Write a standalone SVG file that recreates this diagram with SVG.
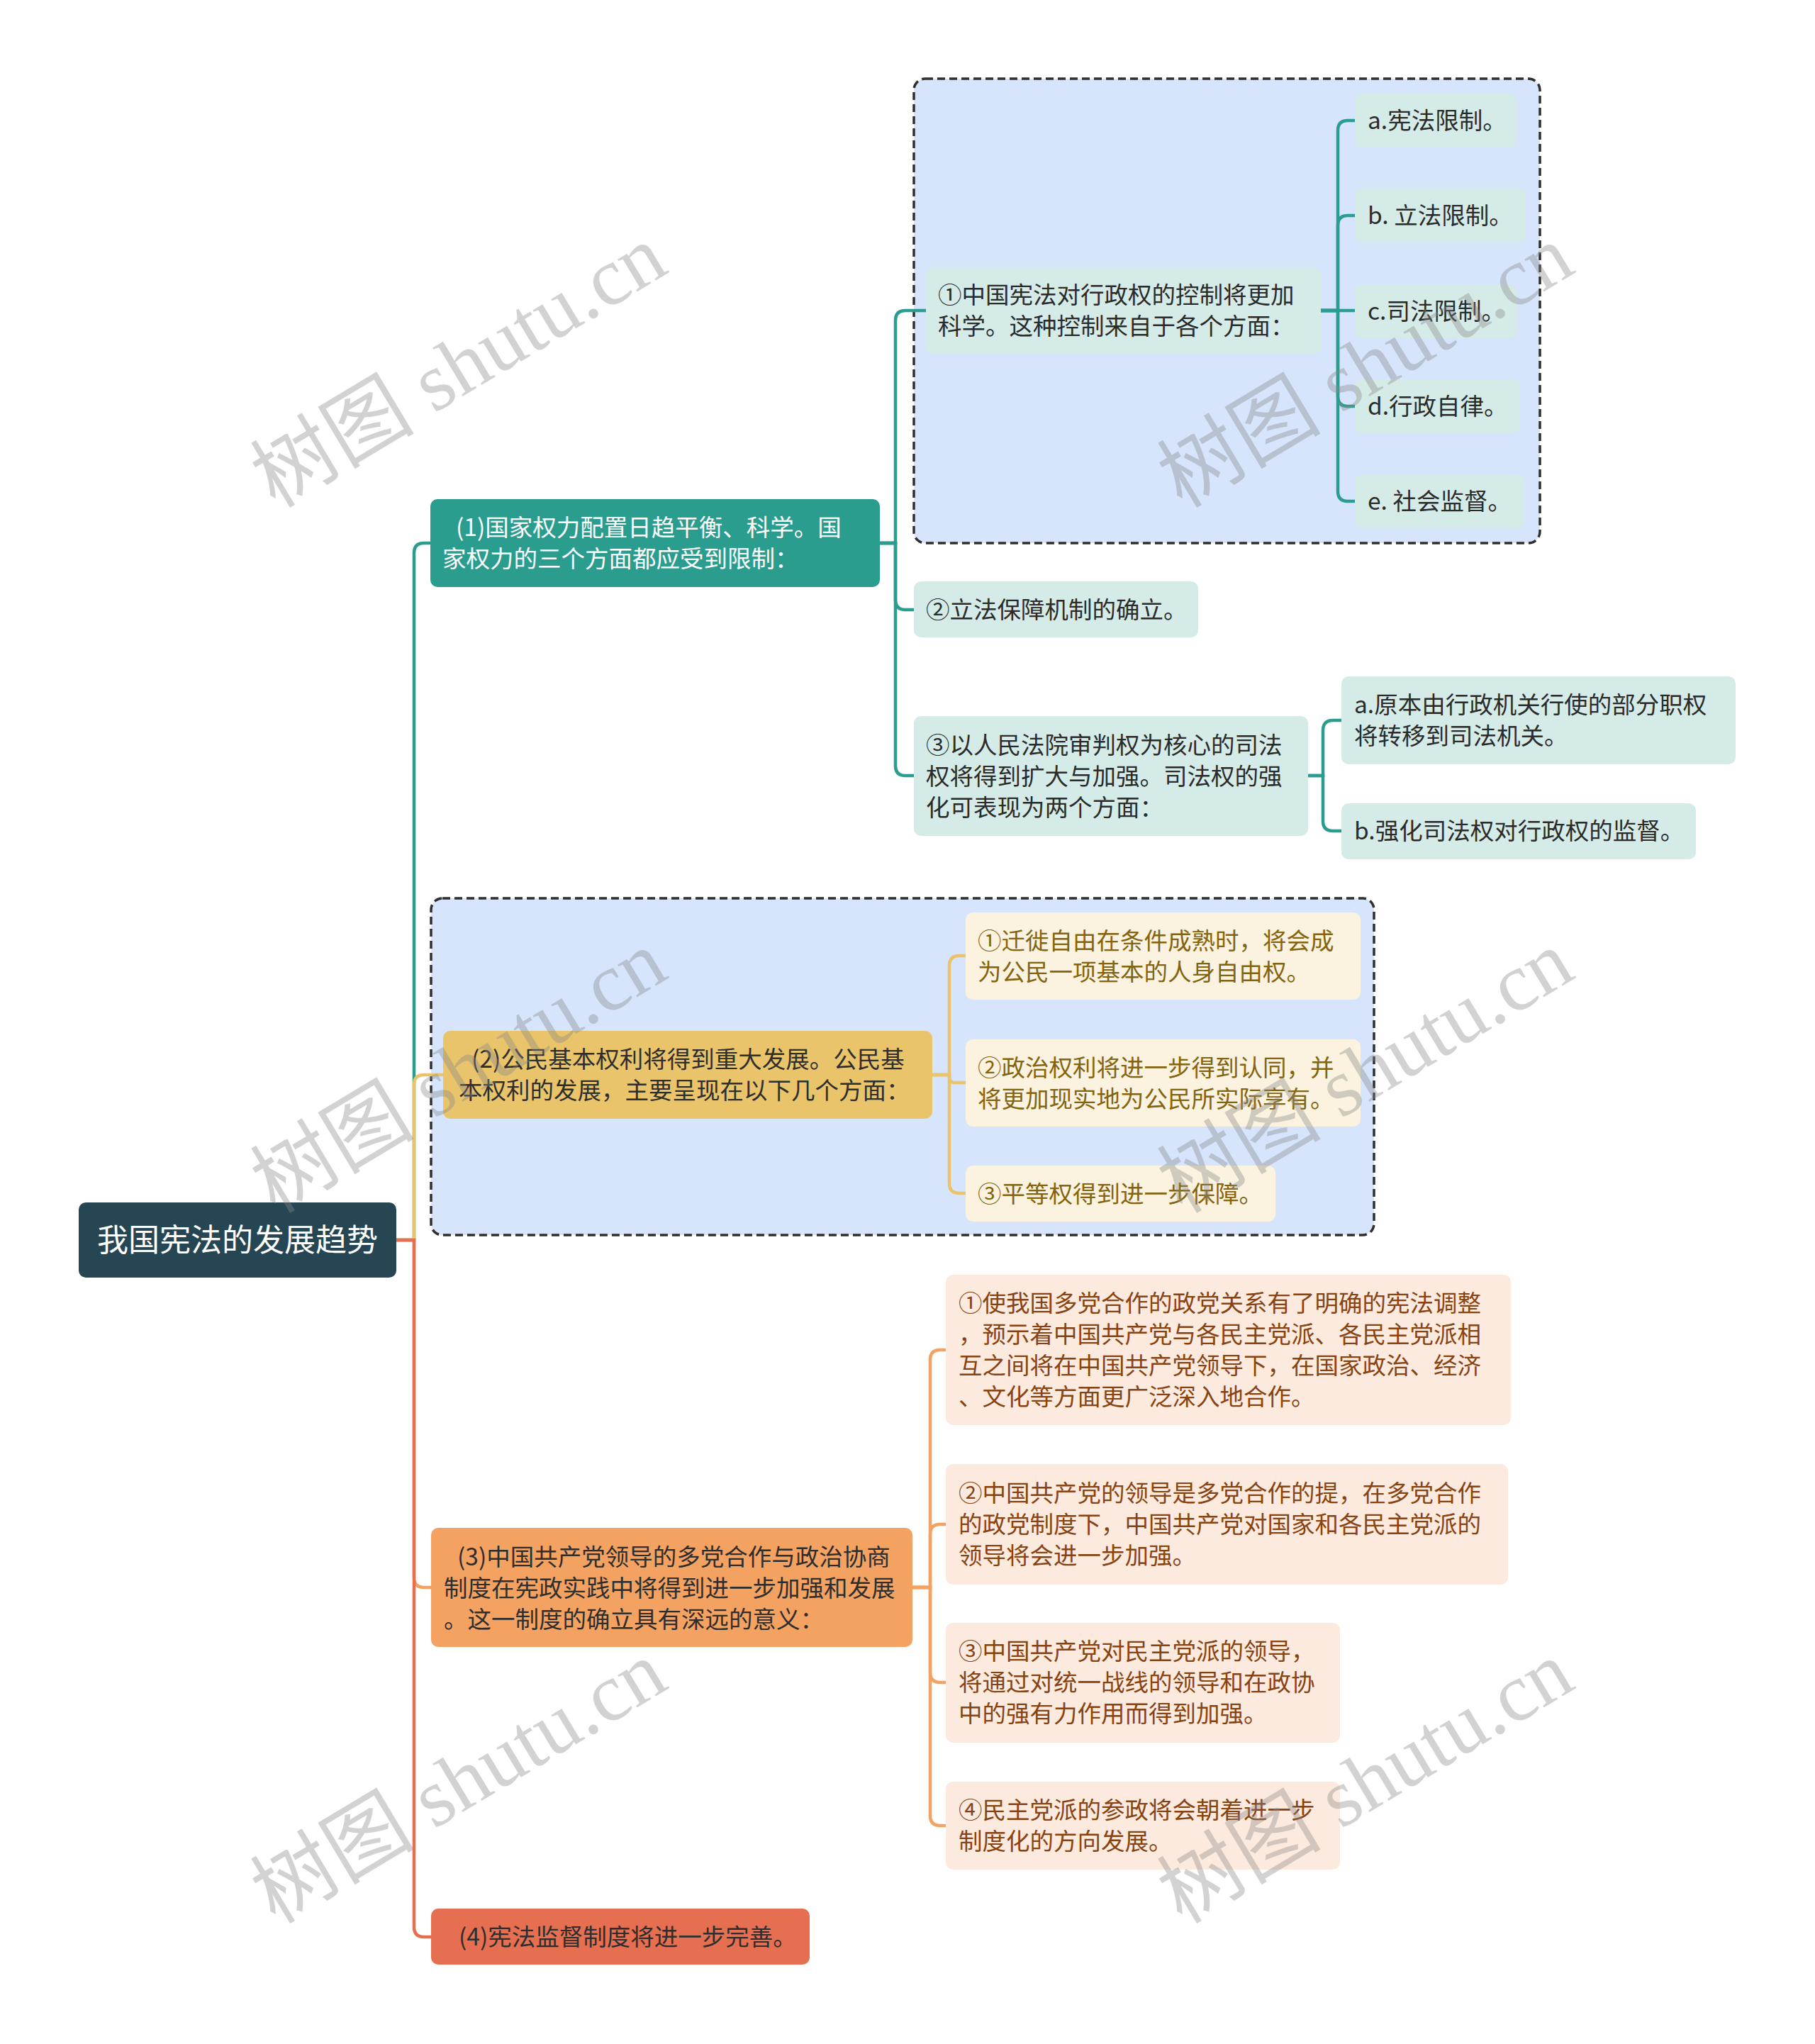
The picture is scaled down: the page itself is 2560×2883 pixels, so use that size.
<svg xmlns="http://www.w3.org/2000/svg" width="2560" height="2883" viewBox="0 0 2560 2883">
<style>
text{font-family:"Noto Sans CJK SC","Noto Sans",sans-serif;font-size:33.5px;dominant-baseline:central}
.c{fill:none;stroke-width:4.5}
.teal{stroke:#2a9d8f}.yel{stroke:#e9c46a}.ora{stroke:#f4a261}.red{stroke:#e76f51}
.box{fill:#d6e4fc;stroke:#2f2f2f;stroke-width:3.5;stroke-dasharray:11 6}
.n1{fill:#d5ebe7}.n2{fill:#fbf3df}.n3{fill:#fdeade}
.t1{fill:#2b2b2b}.t2{fill:#84640f}.t3{fill:#884312}.td{fill:#2e2e2e}
.wm{font-family:"Liberation Serif","Noto Sans CJK SC",serif;font-size:116px;fill:#8a8a8a;fill-opacity:0.38;text-anchor:middle}
</style>
<rect width="2560" height="2883" fill="#ffffff"/>
<g id="frames">
<rect class="box" x="1289" y="111" width="883" height="655" rx="16"/>
<rect class="box" x="608" y="1267" width="1330" height="475" rx="16"/>
</g>
<g id="connectors">
<path class="c teal" d="M559 1749 H584 V780 Q584 766 598 766 H607"/>
<path class="c yel" d="M559 1749 H584 V1530 Q584 1516 598 1516 H625"/>
<path class="c ora" d="M559 1749 H584 V2225 Q584 2239 598 2239 H608"/>
<path class="c red" d="M559 1749 H584 V2718 Q584 2732 598 2732 H608"/>
<path class="c teal" d="M1241 766 H1263 V452 Q1263 438 1277 438 H1306"/>
<path class="c teal" d="M1241 766 H1263 V846 Q1263 860 1277 860 H1289"/>
<path class="c teal" d="M1241 766 H1263 V1080 Q1263 1094 1277 1094 H1289"/>
<path class="c teal" d="M1863 438 H1887 V184 Q1887 170 1901 170 H1911"/>
<path class="c teal" d="M1863 438 H1887 V318 Q1887 304 1901 304 H1911"/>
<path class="c teal" d="M1863 438 H1911"/>
<path class="c teal" d="M1863 438 H1887 V559 Q1887 573 1901 573 H1911"/>
<path class="c teal" d="M1863 438 H1887 V693 Q1887 707 1901 707 H1911"/>
<path class="c teal" d="M1845 1094 H1866 V1030 Q1866 1016 1880 1016 H1892"/>
<path class="c teal" d="M1845 1094 H1866 V1158 Q1866 1172 1880 1172 H1892"/>
<path class="c yel" d="M1315 1516 H1339 V1362 Q1339 1348 1353 1348 H1362"/>
<path class="c yel" d="M1315 1516 H1339 V1519 Q1339 1527 1347 1527 H1362"/>
<path class="c yel" d="M1315 1516 H1339 V1669 Q1339 1683 1353 1683 H1362"/>
<path class="c ora" d="M1287 2239 H1312 V1918 Q1312 1904 1326 1904 H1334"/>
<path class="c ora" d="M1287 2239 H1312 V2164 Q1312 2150 1326 2150 H1334"/>
<path class="c ora" d="M1287 2239 H1312 V2359 Q1312 2373 1326 2373 H1334"/>
<path class="c ora" d="M1287 2239 H1312 V2561 Q1312 2575 1326 2575 H1334"/>
</g>
<g id="root">
<rect x="111" y="1696" width="448" height="106" rx="10" fill="#264653"/>
<text x="335" y="1746" text-anchor="middle" style="font-size:44px" fill="#ffffff">我国宪法的发展趋势</text>
</g>
<g id="b1">
<rect x="607" y="704" width="634" height="124" rx="10" fill="#2a9d8f"/>
<text fill="#ffffff"><tspan x="643" y="741">(1)国家权力配置日趋平衡、科学。国</tspan><tspan x="624" y="785">家权力的三个方面都应受到限制：</tspan></text>
</g>
<g id="b1-1">
<rect class="n1" x="1306" y="377" width="557" height="122" rx="10"/>
<text class="t1"><tspan x="1323" y="413">①中国宪法对行政权的控制将更加</tspan><tspan x="1323" y="457">科学。这种控制来自于各个方面：</tspan></text>
</g>
<g id="b1-1-a"><rect class="n1" x="1911" y="132" width="228" height="76" rx="10"/><text class="t1" x="1929" y="167">a.宪法限制。</text></g>
<g id="b1-1-b"><rect class="n1" x="1911" y="266" width="241" height="76" rx="10"/><text class="t1" x="1929" y="301">b. 立法限制。</text></g>
<g id="b1-1-c"><rect class="n1" x="1911" y="401" width="228" height="76" rx="10"/><text class="t1" x="1929" y="436">c.司法限制。</text></g>
<g id="b1-1-d"><rect class="n1" x="1911" y="535" width="233" height="76" rx="10"/><text class="t1" x="1929" y="570">d.行政自律。</text></g>
<g id="b1-1-e"><rect class="n1" x="1911" y="669" width="239" height="76" rx="10"/><text class="t1" x="1929" y="704">e. 社会监督。</text></g>
<g id="b1-2">
<rect class="n1" x="1289" y="820" width="401" height="79" rx="10"/>
<text class="t1" x="1306" y="857">②立法保障机制的确立。</text>
</g>
<g id="b1-3">
<rect class="n1" x="1289" y="1010" width="556" height="169" rx="10"/>
<text class="t1"><tspan x="1306" y="1048">③以人民法院审判权为核心的司法</tspan><tspan x="1306" y="1092">权将得到扩大与加强。司法权的强</tspan><tspan x="1306" y="1136">化可表现为两个方面：</tspan></text>
</g>
<g id="b1-3-a">
<rect class="n1" x="1892" y="954" width="556" height="124" rx="10"/>
<text class="t1"><tspan x="1910" y="991">a.原本由行政机关行使的部分职权</tspan><tspan x="1910" y="1035">将转移到司法机关。</tspan></text>
</g>
<g id="b1-3-b">
<rect class="n1" x="1892" y="1133" width="500" height="79" rx="10"/>
<text class="t1" x="1910" y="1169">b.强化司法权对行政权的监督。</text>
</g>
<g id="b2">
<rect x="625" y="1454" width="690" height="124" rx="10" fill="#e9c46a"/>
<text class="td"><tspan x="665" y="1491">(2)公民基本权利将得到重大发展。公民基</tspan><tspan x="647" y="1535">本权利的发展，主要呈现在以下几个方面：</tspan></text>
</g>
<g id="b2-1">
<rect class="n2" x="1362" y="1287" width="557" height="123" rx="10"/>
<text class="t2"><tspan x="1379" y="1324">①迁徙自由在条件成熟时，将会成</tspan><tspan x="1379" y="1368">为公民一项基本的人身自由权。</tspan></text>
</g>
<g id="b2-2">
<rect class="n2" x="1362" y="1466" width="557" height="123" rx="10"/>
<text class="t2"><tspan x="1379" y="1503">②政治权利将进一步得到认同，并</tspan><tspan x="1379" y="1547">将更加现实地为公民所实际享有。</tspan></text>
</g>
<g id="b2-3">
<rect class="n2" x="1362" y="1644" width="437" height="79" rx="10"/>
<text class="t2" x="1379" y="1681">③平等权得到进一步保障。</text>
</g>
<g id="b3">
<rect x="608" y="2155" width="679" height="168" rx="10" fill="#f4a261"/>
<text class="td"><tspan x="645" y="2193">(3)中国共产党领导的多党合作与政治协商</tspan><tspan x="626" y="2237">制度在宪政实践中将得到进一步加强和发展</tspan><tspan x="626" y="2281">。这一制度的确立具有深远的意义：</tspan></text>
</g>
<g id="b3-1">
<rect class="n3" x="1334" y="1798" width="797" height="212" rx="10"/>
<text class="t3"><tspan x="1352" y="1835">①使我国多党合作的政党关系有了明确的宪法调整</tspan><tspan x="1352" y="1879">，预示着中国共产党与各民主党派、各民主党派相</tspan><tspan x="1352" y="1923">互之间将在中国共产党领导下，在国家政治、经济</tspan><tspan x="1352" y="1967">、文化等方面更广泛深入地合作。</tspan></text>
</g>
<g id="b3-2">
<rect class="n3" x="1334" y="2065" width="793" height="170" rx="10"/>
<text class="t3"><tspan x="1352" y="2103">②中国共产党的领导是多党合作的提，在多党合作</tspan><tspan x="1352" y="2147">的政党制度下，中国共产党对国家和各民主党派的</tspan><tspan x="1352" y="2191">领导将会进一步加强。</tspan></text>
</g>
<g id="b3-3">
<rect class="n3" x="1334" y="2289" width="556" height="169" rx="10"/>
<text class="t3"><tspan x="1352" y="2326">③中国共产党对民主党派的领导，</tspan><tspan x="1352" y="2370">将通过对统一战线的领导和在政协</tspan><tspan x="1352" y="2414">中的强有力作用而得到加强。</tspan></text>
</g>
<g id="b3-4">
<rect class="n3" x="1334" y="2513" width="556" height="124" rx="10"/>
<text class="t3"><tspan x="1352" y="2550">④民主党派的参政将会朝着进一步</tspan><tspan x="1352" y="2594">制度化的方向发展。</tspan></text>
</g>
<g id="b4">
<rect x="608" y="2692" width="534" height="79" rx="10" fill="#e76f51"/>
<text class="td" x="647" y="2729">(4)宪法监督制度将进一步完善。</text>
</g>
<g id="watermarks">
<text class="wm" transform="translate(647 517) rotate(-31)">树图 shutu.cn</text>
<text class="wm" transform="translate(1926 517) rotate(-31)">树图 shutu.cn</text>
<text class="wm" transform="translate(647 1512) rotate(-31)">树图 shutu.cn</text>
<text class="wm" transform="translate(1926 1512) rotate(-31)">树图 shutu.cn</text>
<text class="wm" transform="translate(647 2514) rotate(-31)">树图 shutu.cn</text>
<text class="wm" transform="translate(1926 2514) rotate(-31)">树图 shutu.cn</text>
</g>
</svg>
